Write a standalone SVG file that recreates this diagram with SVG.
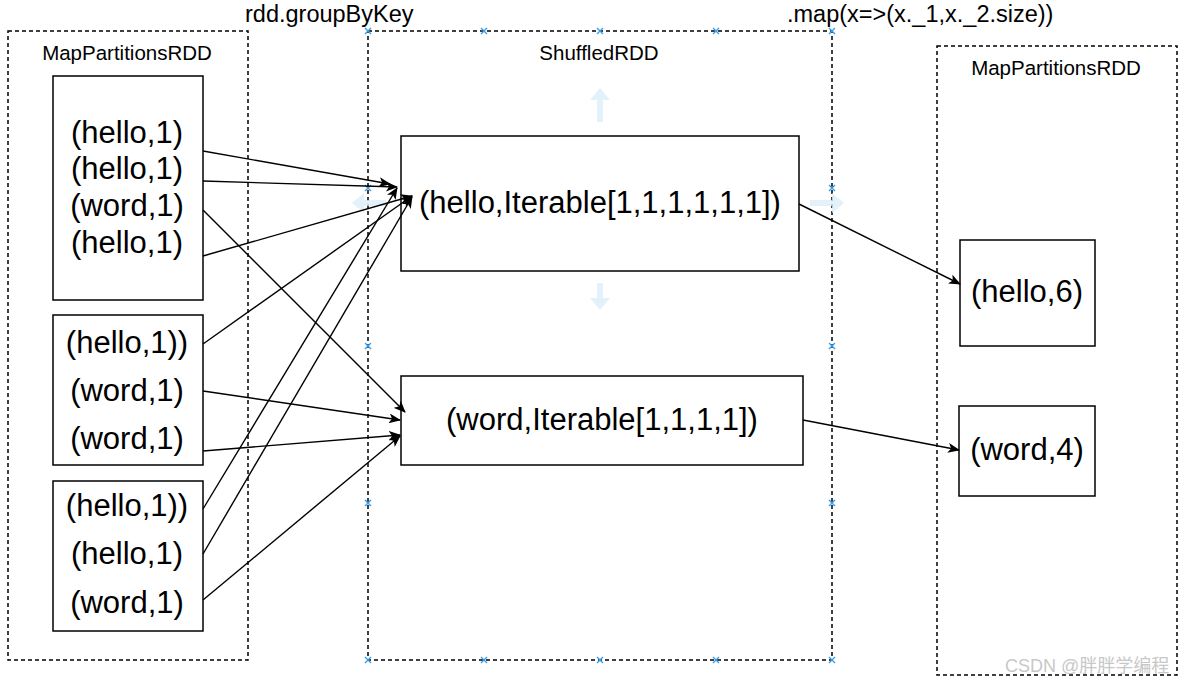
<svg xmlns="http://www.w3.org/2000/svg" width="1184" height="684" viewBox="0 0 1184 684">
<style>
.cont{fill:none;stroke:#000;stroke-width:1.5;stroke-dasharray:4 3}
.box{fill:#fff;stroke:#000;stroke-width:1.5}
.big{font-family:"Liberation Sans",Arial,sans-serif;font-size:31px;fill:#000;text-anchor:middle}
.lbl{font-family:"Liberation Sans",Arial,sans-serif;font-size:20.5px;fill:#000;text-anchor:middle}
.op{font-family:"Liberation Sans",Arial,sans-serif;font-size:23.5px;fill:#000}
.edge{fill:none;stroke:#000;stroke-width:1.4;marker-end:url(#ah)}
.hov{fill:#dcedfa;opacity:0.8}
.hx{stroke:#3a9ee6;stroke-width:1.4}
.wm{font-family:"Liberation Sans","Noto Sans CJK SC",sans-serif;font-size:18px;fill:#c8c8c8}
</style>
<defs>
<marker id="ah" viewBox="0 0 12 10" refX="11" refY="5" markerWidth="12" markerHeight="10" markerUnits="userSpaceOnUse" orient="auto">
<path d="M0,0 L12,5 L0,10 L3,5 z" fill="#000"/>
</marker>
<g id="hx"><path class="hx" d="M-3,-3 L3,3 M-3,3 L3,-3"/></g>
</defs>

<g id="operations">
<text class="op" x="245" y="22">rdd.groupByKey</text>
<text class="op" x="787" y="22">.map(x=&gt;(x._1,x._2.size))</text>
</g>

<g id="mapPartitionsLeft">
<rect class="cont" x="8" y="31" width="240" height="629"/>
<text class="lbl" x="127" y="60">MapPartitionsRDD</text>
</g>
<g id="partition1">
<rect class="box" x="53" y="76" width="150" height="224"/>
<text class="big" x="127" y="143">(hello,1)</text>
<text class="big" x="127" y="179">(hello,1)</text>
<text class="big" x="127" y="216">(word,1)</text>
<text class="big" x="127" y="253">(hello,1)</text>
</g>
<g id="partition2">
<rect class="box" x="53" y="315" width="150" height="150"/>
<text class="big" x="127" y="353">(hello,1))</text>
<text class="big" x="127" y="401">(word,1)</text>
<text class="big" x="127" y="449">(word,1)</text>
</g>
<g id="partition3">
<rect class="box" x="53" y="481" width="150" height="150"/>
<text class="big" x="127" y="516">(hello,1))</text>
<text class="big" x="127" y="564">(hello,1)</text>
<text class="big" x="127" y="613">(word,1)</text>
</g>

<g id="shuffledRDD">
<rect class="cont" x="368" y="31" width="464" height="629"/>
<text class="lbl" x="599" y="60">ShuffledRDD</text>
<path class="hov" d="M597,122 L597,100 L590,100 L600,88 L610,100 L603,100 L603,122 z"/>
<path class="hov" d="M597,283 L597,298 L590,298 L600,310 L610,298 L603,298 L603,283 z"/>
<path class="hov" d="M386,200 L364,200 L364,193 L352,203 L364,213 L364,206 L386,206 z"/>
<path class="hov" d="M810,200 L832,200 L832,193 L844,203 L832,213 L832,206 L810,206 z"/>
<use href="#hx" x="368" y="31"/><use href="#hx" x="484" y="31"/><use href="#hx" x="600" y="31"/><use href="#hx" x="716" y="31"/><use href="#hx" x="832" y="31"/>
<use href="#hx" x="368" y="188"/><use href="#hx" x="832" y="188"/>
<use href="#hx" x="368" y="346"/><use href="#hx" x="832" y="346"/>
<use href="#hx" x="368" y="503"/><use href="#hx" x="832" y="503"/>
<use href="#hx" x="368" y="660"/><use href="#hx" x="484" y="660"/><use href="#hx" x="600" y="660"/><use href="#hx" x="716" y="660"/><use href="#hx" x="832" y="660"/>
</g>
<g id="helloGroup">
<rect class="box" x="401" y="136" width="398" height="135"/>
<text class="big" x="600" y="213">(hello,Iterable[1,1,1,1,1,1])</text>
</g>
<g id="wordGroup">
<rect class="box" x="401" y="376" width="402" height="89"/>
<text class="big" x="602" y="430">(word,Iterable[1,1,1,1])</text>
</g>

<g id="mapPartitionsRight">
<rect class="cont" x="937" y="46" width="240" height="629"/>
<text class="lbl" x="1056" y="75">MapPartitionsRDD</text>
</g>
<g id="hello6">
<rect class="box" x="960" y="240" width="135" height="106"/>
<text class="big" x="1027" y="302">(hello,6)</text>
</g>
<g id="word4">
<rect class="box" x="959" y="406" width="136" height="90"/>
<text class="big" x="1027" y="460">(word,4)</text>
</g>

<g id="connectors">
<path class="edge" d="M203,151 L390,184"/>
<path class="edge" d="M203,181 L397,187"/>
<path class="edge" d="M203,210 L405,412"/>
<path class="edge" d="M203,256 L412,196"/>
<path class="edge" d="M203,344 L412,196"/>
<path class="edge" d="M203,391 L400,420"/>
<path class="edge" d="M203,451 L400,435"/>
<path class="edge" d="M203,509 L397,188"/>
<path class="edge" d="M203,554 L412,197"/>
<path class="edge" d="M203,600 L400,436"/>
<path class="edge" d="M799,204 L960,284"/>
<path class="edge" d="M803,420 L959,450"/>
</g>

<text class="wm" x="1005" y="672">CSDN @胖胖学编程</text>
</svg>
